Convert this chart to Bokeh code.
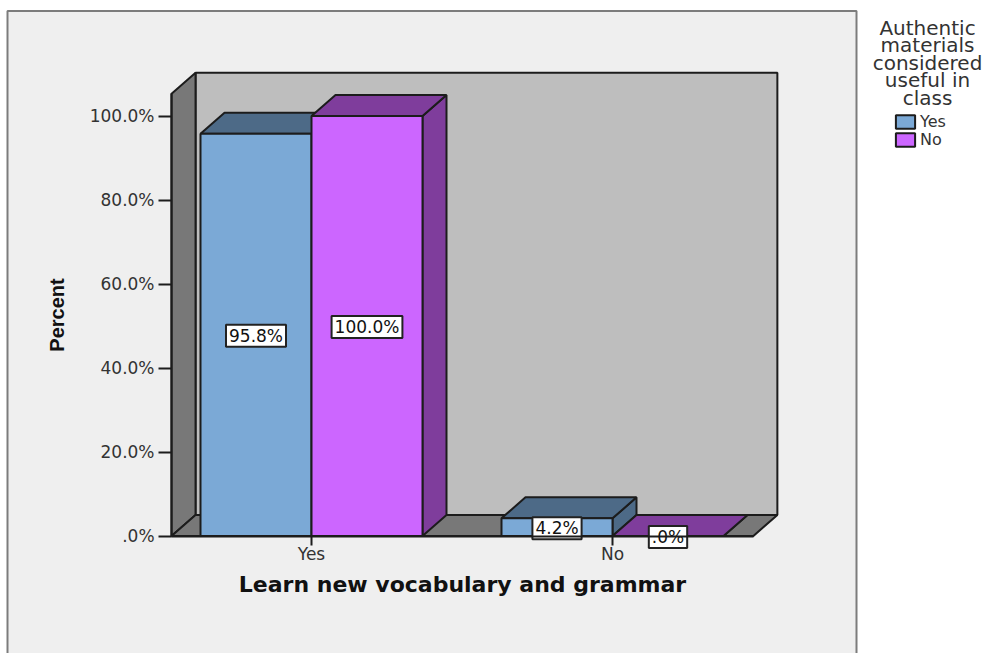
from bokeh.plotting import figure
from bokeh.models import (ColumnDataSource, FixedTicker, LinearAxis, BoxAnnotation, Label,
                          Legend, LegendItem, Range1d)
from bokeh.core.properties import value
from bokeh.embed import file_html
from bokeh.resources import INLINE

categories = ["Yes", "No"]
series_names = ["Yes", "No"]
yes_values = [95.8, 4.2]
no_values = [100.0, 0.0]
value_labels_yes = ["95.8%", "4.2%"]
value_labels_no = ["100.0%", ".0%"]
y_ticks = [0, 20, 40, 60, 80, 100]
y_tick_labels = [".0%", "20.0%", "40.0%", "60.0%", "80.0%", "100.0%"]
legend_title = ["Authentic", "materials", "considered", "useful in", "class"]

FONT = "DejaVu Sans"
W, H = 985, 653
PX_X = 301.0   # pixels per category step
PX_Y = 4.2     # pixels per percent
ORIGIN_X = 311
ORIGIN_Y = 535.5
BAR = 111 / PX_X
DX, DY = 24 / PX_X, 5.0
X0, X1 = -0.465, 1.468
Y1 = 105.3
LINE = "#1c1c1c"

p = figure(width=W, height=H, output_backend="svg", toolbar_location=None,
           x_range=Range1d(-ORIGIN_X / PX_X, (W - ORIGIN_X) / PX_X),
           y_range=Range1d(-(H - ORIGIN_Y) / PX_Y, ORIGIN_Y / PX_Y),
           min_border=0, min_border_left=0, min_border_right=0, min_border_top=0, min_border_bottom=0,
           x_axis_type=None, y_axis_type=None)
p.outline_line_color = None
p.grid.visible = False
p.background_fill_color = "white"
p.border_fill_color = "white"

panel = BoxAnnotation(left=7, right=856, top=H - 10.5, bottom=-6,
                      left_units="screen", right_units="screen", top_units="screen", bottom_units="screen",
                      fill_color="#efefef", fill_alpha=1, line_color="#7c7c7c", line_alpha=1,
                      line_width=2, level="underlay")
p.add_layout(panel)

# chart box: back wall, left wall, floor
p.patch([X0 + DX, X1 + DX, X1 + DX, X0 + DX], [DY, DY, Y1 + DY, Y1 + DY],
        fill_color="#bebebe", line_color=LINE, line_width=2)
p.patch([X0, X0 + DX, X0 + DX, X0], [0, DY, Y1 + DY, Y1],
        fill_color="#787878", line_color=LINE, line_width=2)
p.patch([X0, X1, X1 + DX, X0 + DX], [0, 0, DY, DY],
        fill_color="#787878", line_color=LINE, line_width=2)

front_colors = ["#7ba9d6", "#cc66ff"]
dark_colors = ["#4d6a87", "#7f3d9c"]
legend_items = []
label_x, label_y, label_t = [], [], []
for s, (vals, texts) in enumerate([(yes_values, value_labels_yes), (no_values, value_labels_no)]):
    lefts = [i - BAR + s * BAR for i in range(len(categories))]
    rights = [l + BAR for l in lefts]
    tops_x = [[l, r, r + DX, l + DX] for l, r in zip(lefts, rights)]
    tops_y = [[v, v, v + DY, v + DY] for v in vals]
    side_x = [[r, r + DX, r + DX, r] for r in rights]
    side_y = [[0, DY, v + DY, v] for v in vals]
    p.patches(side_x, side_y, fill_color=dark_colors[s], line_color=LINE, line_width=2)
    p.patches(tops_x, tops_y, fill_color=dark_colors[s], line_color=LINE, line_width=2)
    r = p.quad(left=lefts, right=rights, bottom=[0] * len(vals), top=vals,
               fill_color=front_colors[s], line_color=LINE, line_width=2)
    legend_items.append(LegendItem(label=series_names[s], renderers=[r]))
    label_x += [l + BAR / 2 for l in lefts]
    label_y += [v / 2 for v in vals]
    label_t += texts

xaxis = LinearAxis(fixed_location=0, bounds=(X0, X1), ticker=FixedTicker(ticks=[0, 1]),
                   major_label_overrides={i: c for i, c in enumerate(categories)},
                   axis_label="Learn new vocabulary and grammar",
                   axis_label_text_font=FONT, axis_label_text_font_style="bold",
                   axis_label_text_font_size="22px", axis_label_text_color="#111111",
                   axis_label_standoff=4,
                   major_label_text_font=FONT, major_label_text_font_size="17px",
                   major_label_text_color="#333333", major_label_standoff=-1,
                   major_tick_in=0, major_tick_out=9, minor_tick_line_color=None,
                   major_tick_line_color=LINE, major_tick_line_width=2,
                   axis_line_color=LINE, axis_line_width=2)
p.add_layout(xaxis, "below")
yaxis = LinearAxis(fixed_location=X0, bounds=(0, Y1), ticker=FixedTicker(ticks=y_ticks),
                   major_label_overrides=dict(zip(y_ticks, y_tick_labels)),
                   axis_label="Percent",
                   axis_label_text_font="Liberation Sans", axis_label_text_font_style="bold",
                   axis_label_text_font_size="20px", axis_label_text_color="#111111",
                   axis_label_standoff=19,
                   major_label_text_font=FONT, major_label_text_font_size="17px",
                   major_label_text_color="#333333", major_label_standoff=4,
                   major_tick_in=0, major_tick_out=13, minor_tick_line_color=None,
                   major_tick_line_color=LINE, major_tick_line_width=2,
                   axis_line_color=LINE, axis_line_width=2)
p.add_layout(yaxis, "left")

labels = ColumnDataSource(dict(x=label_x, y=label_y, t=label_t))
p.text("x", "y", text="t", source=labels, text_align="center", text_baseline="middle", y_offset=1,
       text_font=value(FONT), text_font_size="17px", text_color="#111111",
       background_fill_color="white", border_line_color="#222222", border_line_width=2, padding=(3, 1))

for item, bottom in zip(legend_items, [522, 504]):
    legend = Legend(items=[item], location=(893, bottom), orientation="vertical",
                    background_fill_alpha=0, border_line_color=None, margin=0, padding=0,
                    spacing=0, glyph_width=24, glyph_height=17, label_height=17, label_standoff=3,
                    label_text_font=FONT, label_text_font_size="16px", label_text_color="#333333")
    p.add_layout(legend, "center")

for i, line in enumerate(legend_title):
    p.add_layout(Label(x=927, y=H - 27 - i * 17.5, x_units="screen", y_units="screen", text=line,
                       text_align="center", text_baseline="middle",
                       text_font=FONT, text_font_size="20px", text_color="#333333"))

open("out.html", "w").write(file_html(p, INLINE))
